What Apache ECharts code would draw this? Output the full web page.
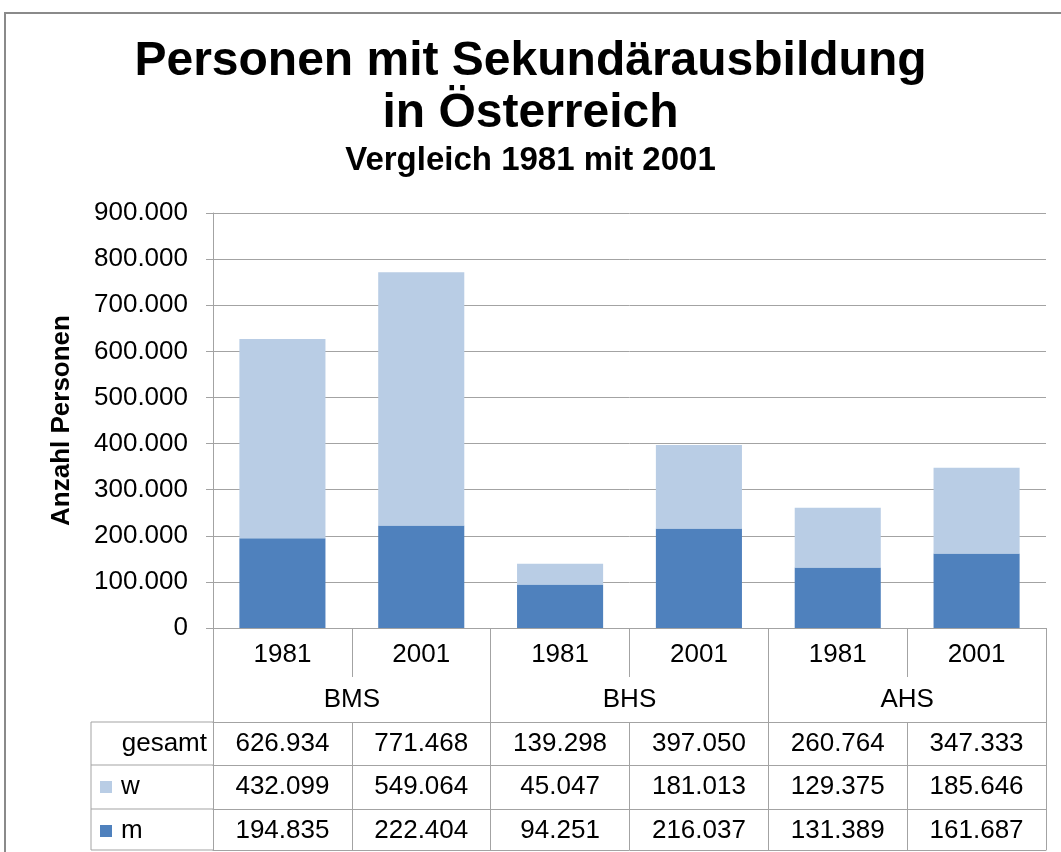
<!DOCTYPE html>
<html>
<head>
<meta charset="utf-8">
<script src="https://cdn.jsdelivr.net/npm/echarts@6/dist/echarts.min.js"></script>
<style>
  html, body { margin: 0; padding: 0; background: #fff; }
  #chart { width: 1061px; height: 852px; }
</style>
</head>
<body>
<div id="chart"></div>
<script>
// data
const years = ['1981', '2001', '1981', '2001', '1981', '2001']
const schools = ['BMS', 'BHS', 'AHS']
const gesamt = [626934, 771468, 139298, 397050, 260764, 347333]
const wValues = [432099, 549064, 45047, 181013, 129375, 185646]
const mValues = [194835, 222404, 94251, 216037, 131389, 161687]
const yTicks = [0, 900000, 100000] // min, max, step

const FONT = '"Liberation Sans", Arial, sans-serif'
const LINE = '#a3a3a3'
const GRID = { left: 213, right: 15, top: 213, bottom: 224 }
const TABLE_LEFT = 91
const ROWS = [722, 765, 809, 850] // horizontal table lines

function fmt (v) {
  return String(v).replace(/\B(?=(\d{3})+(?!\d))/g, '.')
}

const chart = echarts.init(document.getElementById('chart'), null, { renderer: 'canvas' })

const axisBase = {
  type: 'category',
  position: 'bottom',
  axisLine: { show: false },
  axisTick: { show: false },
  splitLine: { show: false },
  axisLabel: { interval: 0, fontFamily: FONT, fontSize: 26, color: '#000' }
}

function tableRow (values, offset, withTicks) {
  return Object.assign({}, axisBase, {
    data: values.map(fmt),
    offset: offset,
    axisLine: { show: true, lineStyle: { color: LINE, width: 1 } },
    axisTick: withTicks
      ? { show: true, interval: 0, length: ROWS[3] - ROWS[0], lineStyle: { color: LINE } }
      : { show: false },
    axisLabel: Object.assign({}, axisBase.axisLabel, { margin: 9 })
  })
}

const option = {
  animation: false,
  backgroundColor: '#fff',
  title: {
    text: 'Personen mit Sekundärausbildung\nin Österreich',
    subtext: 'Vergleich 1981 mit 2001',
    left: 'center',
    top: 31,
    padding: [5, 0, 5, 20],
    itemGap: 3,
    textStyle: { fontFamily: FONT, fontSize: 48, fontWeight: 'bold', color: '#000', lineHeight: 52 },
    subtextStyle: { fontFamily: FONT, fontSize: 33, fontWeight: 'bold', color: '#000', lineHeight: 36 }
  },
  legend: {
    data: ['w', 'm'],
    orient: 'vertical',
    left: 100,
    top: 774,
    padding: 0,
    itemWidth: 12,
    itemHeight: 12,
    itemGap: 18,
    icon: 'rect',
    selectedMode: false,
    textStyle: { fontFamily: FONT, fontSize: 26, color: '#000', lineHeight: 26, padding: [0, 0, 0, 4] }
  },
  grid: Object.assign({ containLabel: false }, GRID),
  xAxis: [
    Object.assign({}, axisBase, {
      data: years,
      axisLine: { show: true, lineStyle: { color: LINE } },
      axisTick: { show: true, interval: 0, length: 49, lineStyle: { color: LINE } },
      axisLabel: Object.assign({}, axisBase.axisLabel, { margin: 14 })
    }),
    Object.assign({}, axisBase, {
      data: schools,
      axisTick: { show: true, interval: 0, length: ROWS[3] - 628, lineStyle: { color: LINE } },
      axisLabel: Object.assign({}, axisBase.axisLabel, { margin: 59 })
    }),
    tableRow(gesamt, ROWS[0] - 628, true),
    tableRow(wValues, ROWS[1] - 628, false),
    tableRow(mValues, ROWS[2] - 628, false),
    Object.assign({}, axisBase, {
      data: years,
      offset: ROWS[3] - 628,
      axisLine: { show: true, lineStyle: { color: LINE } },
      axisLabel: { show: false }
    })
  ],
  yAxis: {
    type: 'value',
    min: yTicks[0],
    max: yTicks[1],
    interval: yTicks[2],
    name: 'Anzahl Personen',
    nameLocation: 'middle',
    nameRotate: 90,
    nameGap: 138,
    nameTextStyle: { fontFamily: FONT, fontSize: 26, fontWeight: 'bold', color: '#000' },
    axisLine: { show: true, lineStyle: { color: LINE } },
    axisTick: { show: true, length: 7, lineStyle: { color: LINE } },
    splitLine: { show: true, lineStyle: { color: LINE, width: 1 } },
    axisLabel: { fontFamily: FONT, fontSize: 26, color: '#000', margin: 25, formatter: fmt }
  },
  series: [
    {
      name: 'm',
      type: 'bar',
      stack: 'total',
      barWidth: '62%',
      itemStyle: { color: '#4F81BD' },
      data: mValues
    },
    {
      name: 'w',
      type: 'bar',
      stack: 'total',
      barWidth: '62%',
      itemStyle: { color: '#B9CDE5' },
      data: wValues
    }
  ],
  graphic: [
    // outer chart frame
    {
      type: 'rect',
      shape: { x: 5, y: 13, width: 1100, height: 900 },
      style: { fill: 'none', stroke: '#8a8a8a', lineWidth: 2 },
      silent: true
    },
    // label column of the data table
    ...ROWS.map(y => ({
      type: 'line',
      shape: { x1: TABLE_LEFT, y1: y, x2: GRID.left, y2: y },
      style: { stroke: LINE, lineWidth: 1 },
      silent: true
    })),
    {
      type: 'line',
      shape: { x1: TABLE_LEFT, y1: ROWS[0], x2: TABLE_LEFT, y2: ROWS[3] },
      style: { stroke: LINE, lineWidth: 1 },
      silent: true
    },
    {
      type: 'text',
      x: GRID.left - 6,
      y: (ROWS[0] + ROWS[1]) / 2,
      style: {
        text: 'gesamt',
        font: '26px ' + FONT,
        fill: '#000',
        align: 'right',
        verticalAlign: 'middle'
      },
      silent: true
    }
  ]
}

chart.setOption(option)
</script>
</body>
</html>
